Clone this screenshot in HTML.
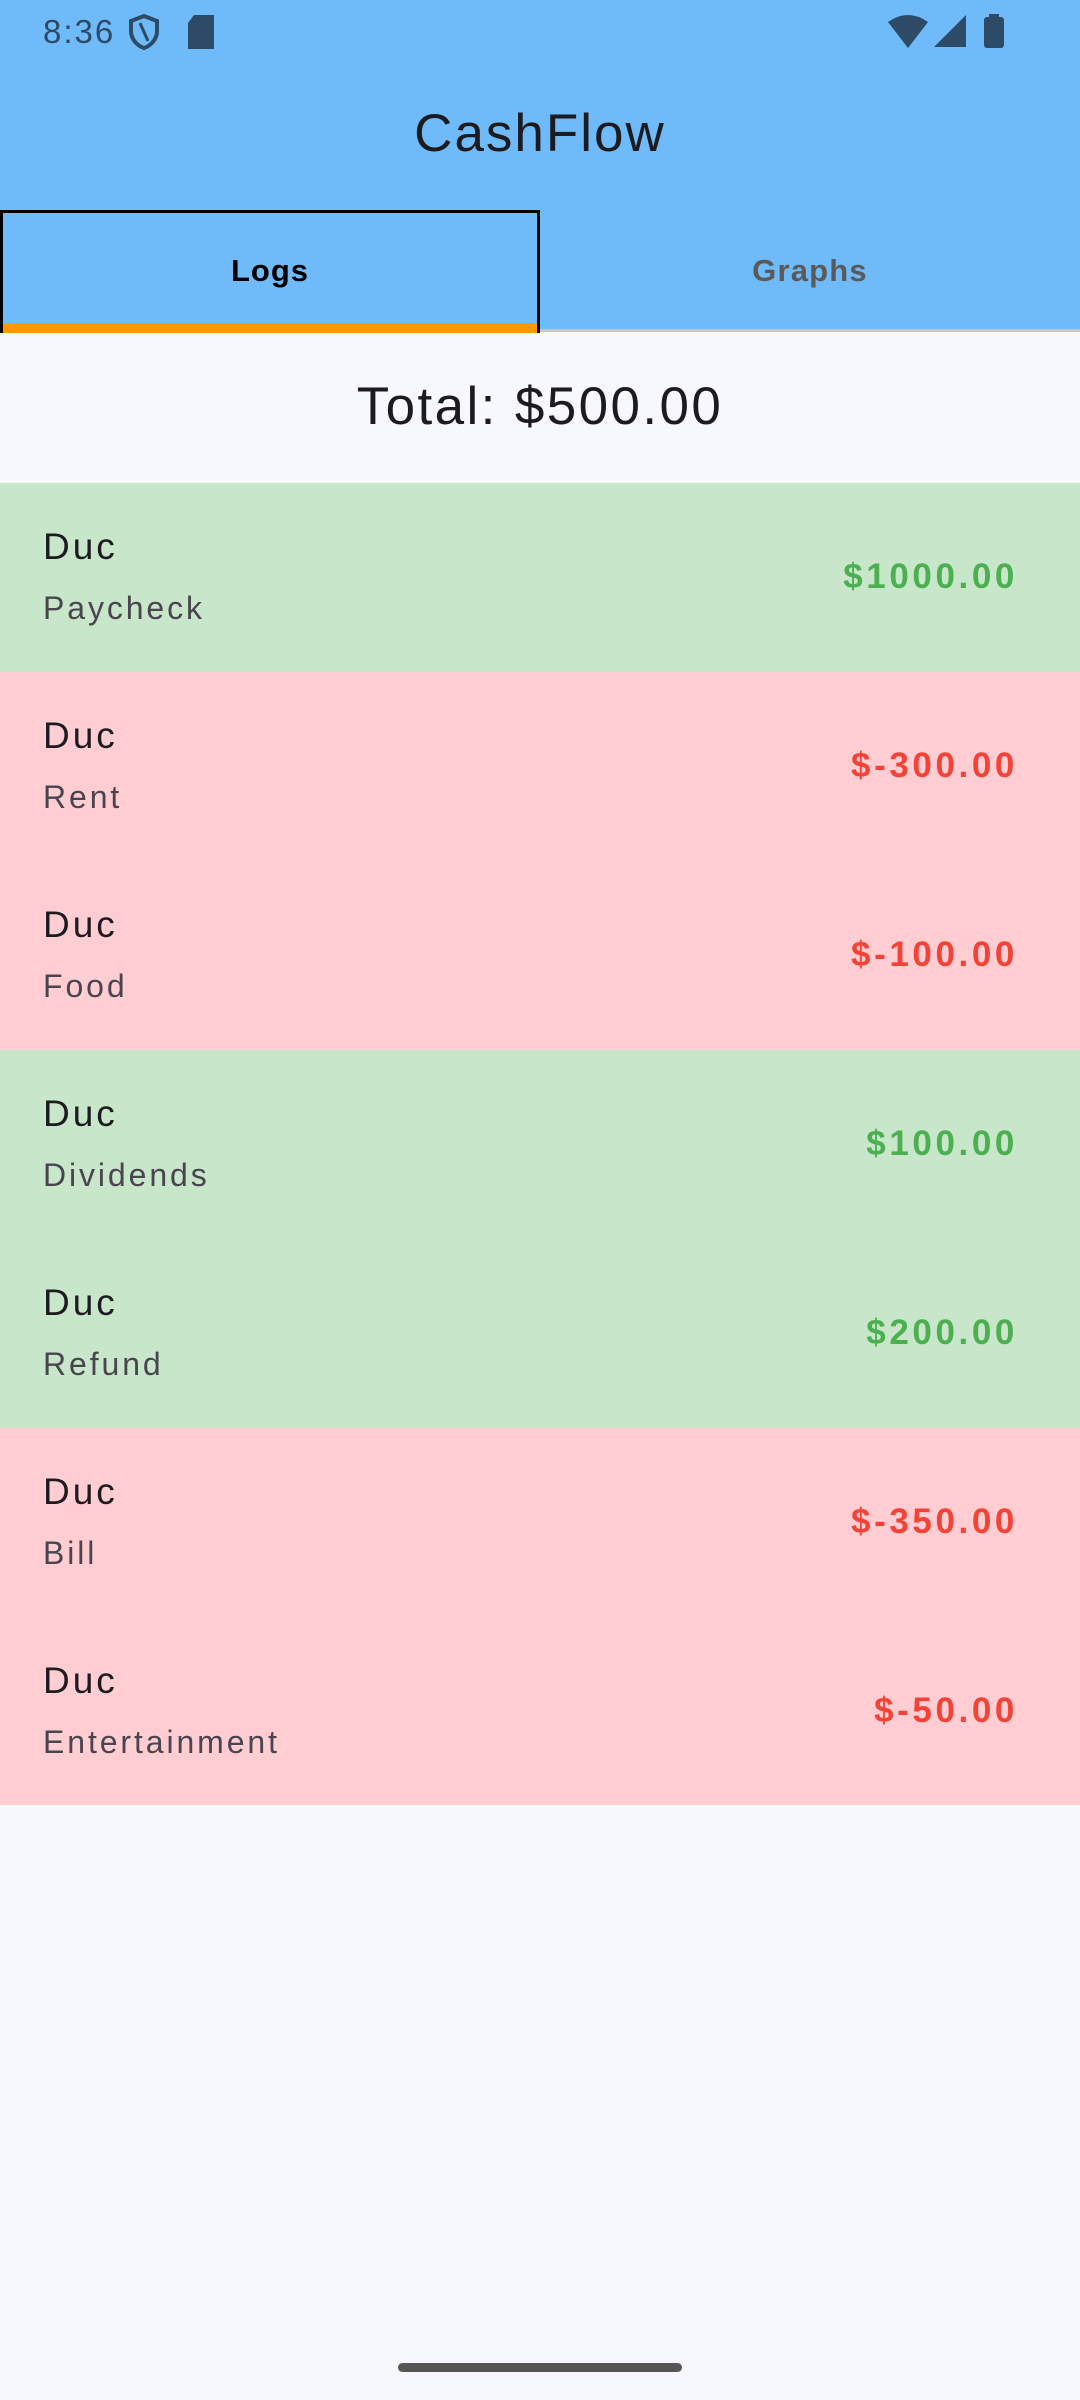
<!DOCTYPE html>
<html><head><meta charset="utf-8"><style>
*{margin:0;padding:0;box-sizing:border-box}
body{width:1080px;height:2400px;background:#f7f8fe;font-family:"Liberation Sans",sans-serif;position:relative;overflow:hidden}
.top{position:absolute;left:0;top:0;width:1080px;height:332px;background:#6fbaf8}
.abs{position:absolute}
.row{position:absolute;left:0;width:1080px;height:189px}
.name{position:absolute;left:43px;top:42px;font-size:37px;color:#1c1b1f;line-height:44px;letter-spacing:3px}
.sub{position:absolute;left:43px;top:106px;font-size:32px;color:#49454f;line-height:38px;letter-spacing:2.9px}
.amt{position:absolute;right:62px;top:74px;font-size:35px;line-height:40px;font-weight:bold;letter-spacing:3.6px}
.g{background:#c8e6c9}.r{background:#ffcdd2}
.g .amt{color:#4caf50}.r .amt{color:#f44336}
</style></head><body>
<div class="top">
 <div class="abs" style="left:43px;top:13px;font-size:33px;color:#2d4a66;letter-spacing:2px">8:36</div>
 <svg class="abs" style="left:128px;top:14px" width="32" height="36" viewBox="0 0 32 36"><path d="M16 2 L29 7 V17 C29 26 22 32 16 34 C10 32 3 26 3 17 V7 Z" fill="none" stroke="#2d4a66" stroke-width="4"/><path d="M12 9 L20 27" stroke="#2d4a66" stroke-width="3"/></svg>
 <svg class="abs" style="left:188px;top:15px" width="26" height="34"><path d="M6 0 H26 V34 H0 V8 Z" fill="#2d4a66"/></svg>
 <svg class="abs" style="left:888px;top:14px" width="40" height="34"><path d="M0 8 Q20 -6 40 8 L20 34 Z" fill="#2d4a66"/></svg>
 <svg class="abs" style="left:934px;top:15px" width="32" height="32"><path d="M32 0 V32 H0 Z" fill="#2d4a66"/></svg>
 <svg class="abs" style="left:984px;top:14px" width="20" height="34"><rect x="5" y="0" width="10" height="4" fill="#2d4a66"/><rect x="0" y="3" width="20" height="31" rx="3" fill="#2d4a66"/></svg>
 <div class="abs" style="left:0;width:1080px;top:103px;text-align:center;font-size:53px;color:#1c1b1f;letter-spacing:2px">CashFlow</div>
 <div class="abs" style="left:0;top:210px;width:540px;height:123px;border:3px solid #000;border-bottom:none">
  <div style="position:absolute;left:0;right:0;top:40px;text-align:center;font-size:31px;font-weight:bold;color:#000;letter-spacing:1px">Logs</div>
  <div style="position:absolute;left:0;right:0;bottom:0;height:10px;background:#ff9800"></div>
 </div>
 <div class="abs" style="left:540px;top:210px;width:540px;height:122px">
  <div style="position:absolute;left:0;right:0;top:43px;text-align:center;font-size:31px;font-weight:bold;color:#5a5a5a;letter-spacing:1.2px">Graphs</div>
 </div>
 <div class="abs" style="left:540px;top:329px;width:540px;height:3px;background:#c8c8c8"></div>
</div>
<div class="abs" style="left:0;width:1080px;top:376px;text-align:center;font-size:53px;color:#1c1b1f;letter-spacing:2.4px">Total: $500.00</div>
<div class="row g" style="top:483px"><div class="name">Duc</div><div class="sub">Paycheck</div><div class="amt">$1000.00</div></div>
<div class="row r" style="top:672px"><div class="name">Duc</div><div class="sub">Rent</div><div class="amt">$-300.00</div></div>
<div class="row r" style="top:861px"><div class="name">Duc</div><div class="sub">Food</div><div class="amt">$-100.00</div></div>
<div class="row g" style="top:1050px"><div class="name">Duc</div><div class="sub">Dividends</div><div class="amt">$100.00</div></div>
<div class="row g" style="top:1239px"><div class="name">Duc</div><div class="sub">Refund</div><div class="amt">$200.00</div></div>
<div class="row r" style="top:1428px"><div class="name">Duc</div><div class="sub">Bill</div><div class="amt">$-350.00</div></div>
<div class="row r" style="top:1617px;height:188px"><div class="name">Duc</div><div class="sub">Entertainment</div><div class="amt">$-50.00</div></div>
<div class="abs" style="left:398px;top:2363px;width:284px;height:9px;border-radius:5px;background:#555"></div>
</body></html>
